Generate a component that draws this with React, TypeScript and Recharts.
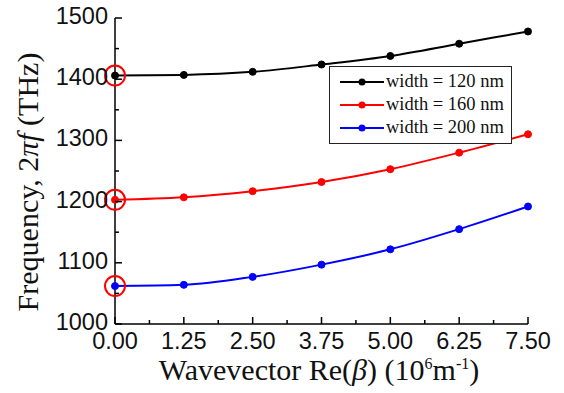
import { Legend, Line, LineChart, ReferenceDot, XAxis, YAxis } from "recharts";

const wavevector = [0, 1.25, 2.5, 3.75, 5, 6.25, 7.5];
const width120 = [1406, 1407, 1412, 1424, 1438, 1458, 1478];
const width160 = [1203, 1207, 1217, 1232, 1253, 1280, 1310];
const width200 = [1062, 1064, 1077, 1097, 1122, 1155, 1192];

const xTicks = [0, 0.625, 1.25, 1.875, 2.5, 3.125, 3.75, 4.375, 5, 5.625, 6.25, 6.875, 7.5];
const yTicks = [1000, 1050, 1100, 1150, 1200, 1250, 1300, 1350, 1400, 1450, 1500];

const series = [
  { key: "w120", name: "width = 120 nm", color: "#000000", values: width120 },
  { key: "w160", name: "width = 160 nm", color: "#ff0000", values: width160 },
  { key: "w200", name: "width = 200 nm", color: "#0000ff", values: width200 },
];

const data = wavevector.map((x, i) => ({
  x,
  w120: width120[i],
  w160: width160[i],
  w200: width200[i],
}));

const sans = "'Liberation Sans', Arial, sans-serif";
const serif = "'Liberation Serif', 'Times New Roman', serif";

const YTick = ({ x, y, payload }: any) => {
  const major = payload.value % 100 === 0;
  return (
    <g>
      <line x1={x} y1={y} x2={x + (major ? 7 : 4)} y2={y} stroke="#000" strokeWidth={1.5} />
      {major && (
        <text x={x - 7} y={y - 2} textAnchor="end" dominantBaseline="central" fontFamily={sans} fontSize={23.5} fill="#111">
          {payload.value}
        </text>
      )}
    </g>
  );
};

const XTick = ({ x, y, payload }: any) => {
  const major = Math.abs((payload.value / 1.25) - Math.round(payload.value / 1.25)) < 1e-6;
  return (
    <g>
      <line x1={x} y1={y} x2={x} y2={y - (major ? 7 : 4)} stroke="#000" strokeWidth={1.5} />
      {major && (
        <text x={x} y={y + 17} textAnchor="middle" dominantBaseline="central" fontFamily={sans} fontSize={23.5} fill="#111">
          {payload.value.toFixed(2)}
        </text>
      )}
    </g>
  );
};

const LegendBox = () => (
  <div
    style={{
      background: "#fff",
      border: "1.5px solid #222",
      width: 183,
      padding: "3px 0 4px 0",
      boxSizing: "border-box",
    }}
  >
    {series.map((s) => (
      <div key={s.key} style={{ display: "flex", alignItems: "center", height: 23 }}>
        <svg width={58} height={12} style={{ marginLeft: 10 }}>
          <line x1={0} y1={6} x2={44} y2={6} stroke={s.color} strokeWidth={2} />
          <circle cx={22} cy={6} r={3.5} fill={s.color} />
        </svg>
        <span style={{ fontFamily: serif, fontSize: 18.5, color: "#111", marginLeft: -12, whiteSpace: "nowrap" }}>
          {s.name}
        </span>
      </div>
    ))}
  </div>
);

export default function App() {
  return (
    <div style={{ position: "absolute", left: 0, top: 0, width: 564, height: 393, background: "#fff" }}>
      <LineChart width={564} height={393} data={data} margin={{ top: 18, right: 36, bottom: 0, left: 0 }}>
        <XAxis
          dataKey="x"
          type="number"
          domain={[0, 7.5]}
          ticks={xTicks}
          interval={0}
          height={69}
          tickSize={0}
          tickMargin={0}
          tickLine={false}
          tick={<XTick />}
          stroke="#000"
          strokeWidth={1.5}
          label={() => (
            <text x={319} y={380} textAnchor="middle" fontFamily={serif} fontSize={30} fill="#111">
              Wavevector Re(<tspan fontStyle="italic">β</tspan>) (10
              <tspan fontSize={16} dy={-11}>6</tspan>
              <tspan dy={11}>m</tspan>
              <tspan fontSize={16} dy={-11}>-1</tspan>
              <tspan dy={11}>)</tspan>
            </text>
          )}
        />
        <XAxis xAxisId="top" orientation="top" type="number" domain={[0, 7.5]} height={0} tick={false} tickLine={false} stroke="#000" strokeWidth={1.5} />
        <YAxis
          type="number"
          domain={[1000, 1500]}
          ticks={yTicks}
          interval={0}
          width={115}
          tickSize={0}
          tickMargin={0}
          tickLine={false}
          tick={<YTick />}
          stroke="#000"
          strokeWidth={1.5}
          label={() => (
            <text
              x={0}
              y={0}
              transform="translate(38, 182) rotate(-90)"
              textAnchor="middle"
              fontFamily={serif}
              fontSize={30}
              fill="#111"
            >
              Frequency, 2<tspan fontStyle="italic">πf</tspan> (THz)
            </text>
          )}
        />
        <YAxis yAxisId="right" orientation="right" type="number" domain={[1000, 1500]} width={0} tick={false} tickLine={false} stroke="#000" strokeWidth={1.5} />
        {series.map((s) => (
          <Line
            key={s.key}
            dataKey={s.key}
            name={s.name}
            type="monotone"
            stroke={s.color}
            strokeWidth={2}
            dot={{ r: 3.5, fill: s.color, stroke: s.color, strokeWidth: 1 }}
            isAnimationActive={false}
          />
        ))}
        {series.map((s) => (
          <ReferenceDot key={"c" + s.key} x={0} y={s.values[0]} r={10} fill="none" stroke="#ff0000" strokeWidth={2} />
        ))}
        <Legend
          layout="vertical"
          align="center"
          verticalAlign="middle"
          content={<LegendBox />}
          wrapperStyle={{ position: "absolute", left: 329, top: 66, width: 183 }}
        />
      </LineChart>
    </div>
  );
}
